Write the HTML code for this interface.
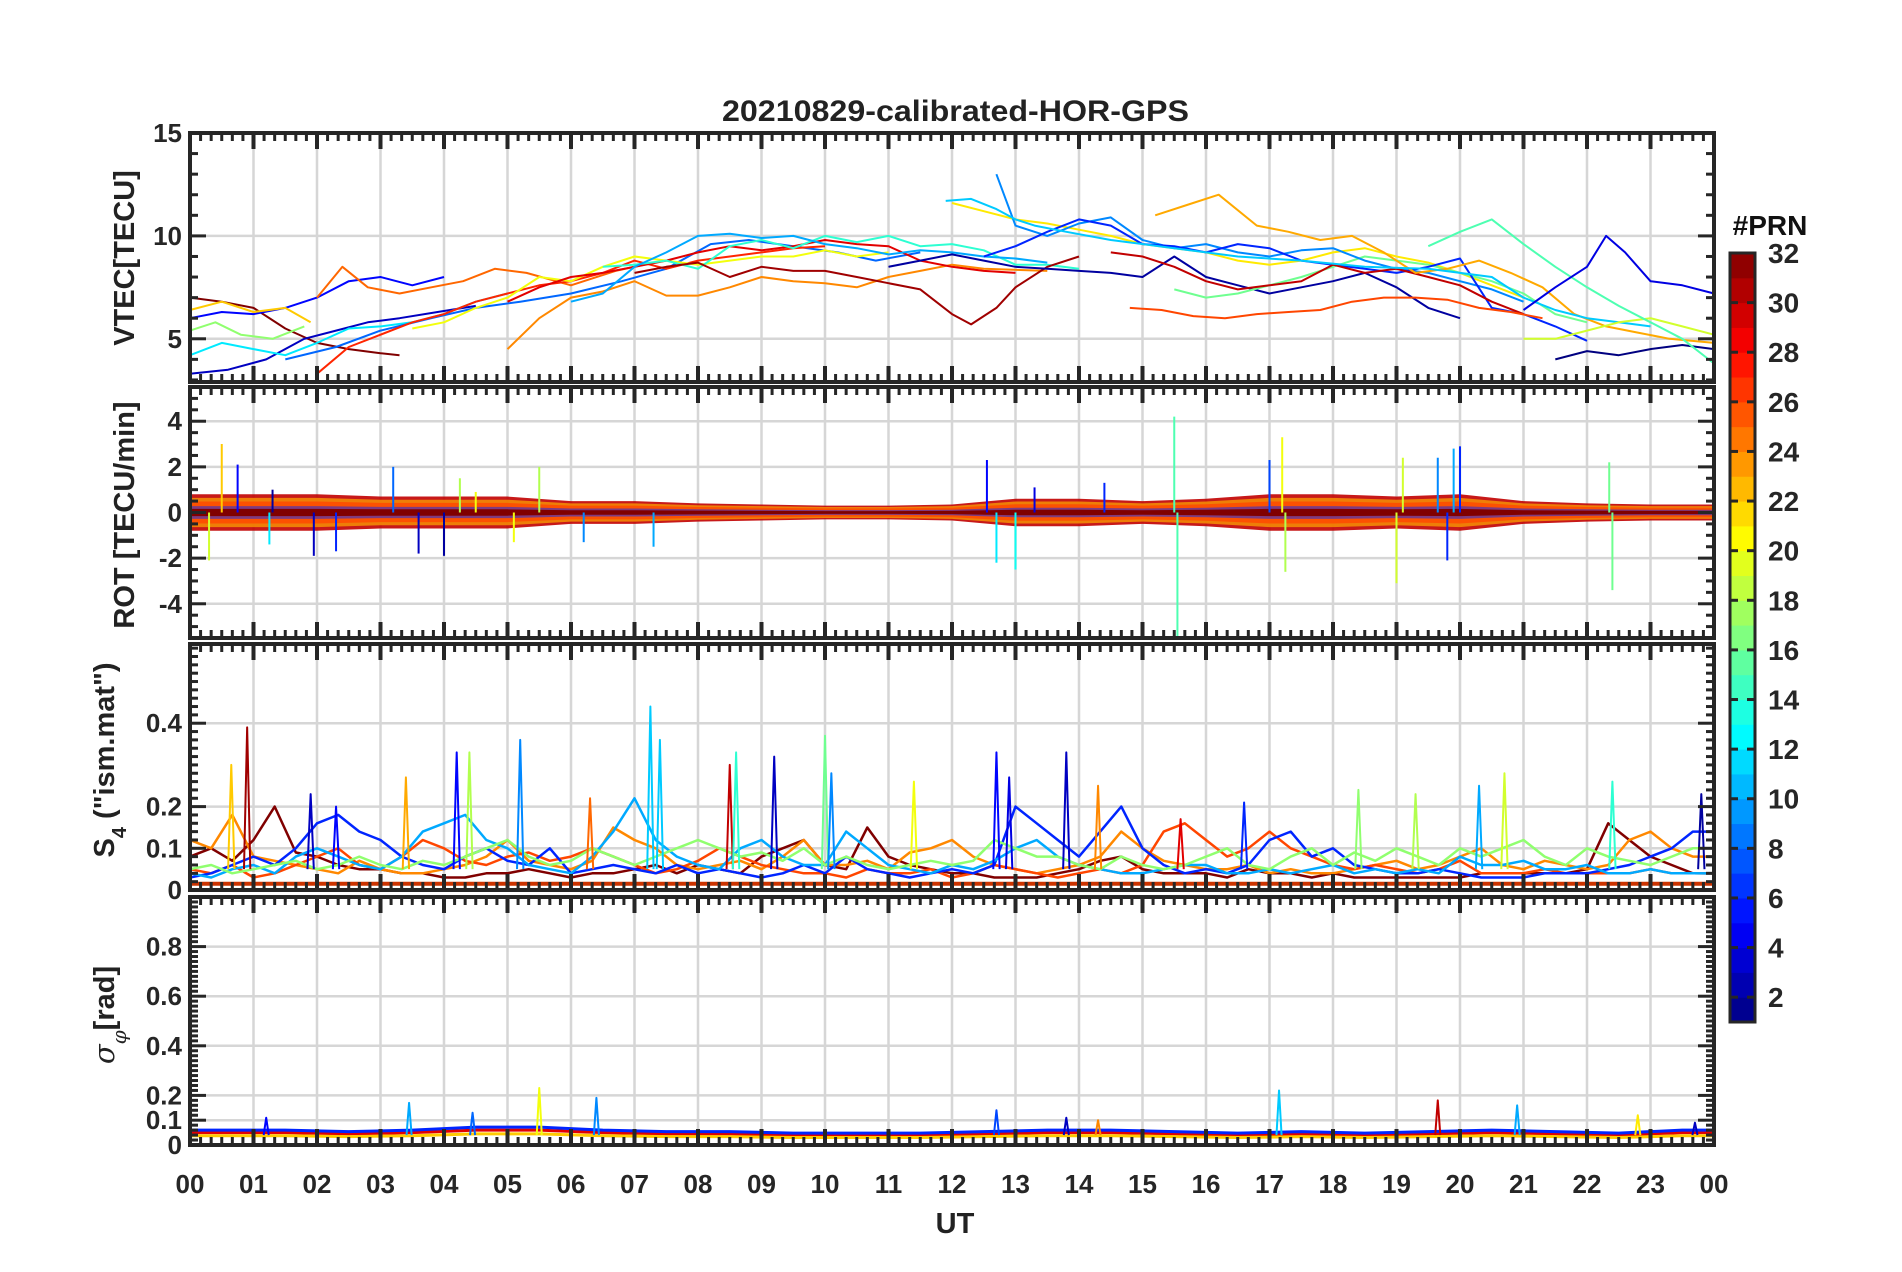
<!DOCTYPE html>
<html><head><meta charset="utf-8"><style>
html,body{margin:0;padding:0;background:#fff;}
svg{display:block;font-family:"Liberation Sans",Arial,sans-serif;font-weight:bold;}
</style></head><body>
<svg id="fig" width="1902" height="1272" viewBox="0 0 1902 1272" xmlns="http://www.w3.org/2000/svg">
<rect width="1902" height="1272" fill="#fff"/>
<text x="722" y="121" font-size="30" fill="#222" textLength="467" lengthAdjust="spacingAndGlyphs">20210829-calibrated-HOR-GPS</text>
<g id="panels"></g>
<text x="955" y="1233" text-anchor="middle" font-size="29" fill="#222">UT</text>
<text transform="translate(134 258) rotate(-90)" text-anchor="middle" font-size="29" fill="#222">VTEC[TECU]</text>
<text transform="translate(134 515) rotate(-90)" text-anchor="middle" font-size="29" fill="#222">ROT [TECU/min]</text>
<text transform="translate(114 760) rotate(-90)" text-anchor="middle" font-size="29" fill="#222">S<tspan font-size="20" dy="12">4</tspan><tspan dy="-12"> ("ism.mat")</tspan></text>
<text transform="translate(114 1015) rotate(-90)" text-anchor="middle" font-size="29" fill="#222"><tspan font-family="DejaVu Serif,serif" font-style="italic" font-weight="normal">σ</tspan><tspan font-size="20" dy="12" font-family="DejaVu Serif,serif" font-style="italic" font-weight="normal">φ</tspan><tspan dy="-12">[rad]</tspan></text>
<g id="cbar"></g>
<text x="1770" y="235" text-anchor="middle" font-size="28" fill="#111">#PRN</text>
</svg>
<script>
// ---------- data ----------
const hourLabels=["00","01","02","03","04","05","06","07","08","09","10","11","12","13","14","15","16","17","18","19","20","21","22","23","00"];
const prnTicks=[2,4,6,8,10,12,14,16,18,20,22,24,26,28,30,32];
const vtecTicks=[5,10,15];
const rotTicks=[-4,-2,0,2,4];
const s4Ticks=[0,0.1,0.2,0.4];
const sigTicks=[0,0.1,0.2,0.4,0.6,0.8];
// VTEC tracks: prn, hours, values
const vtecPrn=[32,5,3,22,25,12,17,8,27,24,20,29,14,10,31,2,21,16,9,6,30,23,26,11,1,19,15,4];
const vtecHrs=[
 [0,0.5,1,1.5,2,2.5,3,3.3],
 [0,0.5,1,1.5,2,2.5,3,3.5,4],
 [0,0.6,1.2,1.8,2.3,2.8,3.3,3.9,4.5],
 [0,0.5,1,1.5,1.9],
 [2,2.4,2.8,3.3,3.8,4.3,4.8,5.3,6,6.7,7.3],
 [0,0.5,1,1.5,2,2.5,3,3.5,4,4.5,5],
 [0,0.4,0.8,1.3,1.8],
 [1.5,2.3,3,3.8,4.5,5.2,6,6.8,7.5,8.2,8.8,9.5,10.2,10.8,11.5],
 [2,2.5,3,3.5,4,4.5,5,5.5,6,6.5,7,7.5,8,8.5,9,9.5,10],
 [5,5.5,6,6.5,7,7.5,8,8.5,9,9.5,10,10.5,11,11.5,12,12.5,13.5],
 [3.5,4,4.5,5,5.5,6,6.5,7,7.5,8,8.5,9,9.5,10,10.5,11],
 [5,5.5,6,6.5,7,7.5,8,8.5,9,9.5,10,10.5,11,11.5,12,12.5,13],
 [6.5,7,7.5,8,8.5,9,9.5,10,10.5,11,11.5,12,12.5,13,13.5,14],
 [6,6.5,7,7.5,8,8.5,9,9.5,10,10.5,11,11.5,12,12.5,13,13.5],
 [7,7.5,8,8.5,9,9.5,10,10.5,11,11.5,12,12.3,12.7,13,13.5,14],
 [11,11.5,12,12.5,13,13.5,14,14.5,15,15.5,16,16.5,17,17.5,18,18.5,19,19.5,20],
 [12,12.5,13,13.5,14,14.5,15,15.5,16,16.5,17,17.5,18,18.5,19,19.5,20,20.5,21],
 [15.5,16,16.5,17,17.5,18,18.5,19,19.5,20,20.5,21,21.5,22],
 [12.7,13,13.5,14,14.5,15,15.5,16,16.5,17,17.5,18,18.5,19,19.5,20,20.5,21],
 [12.5,13,13.5,14,14.5,15,15.5,16,16.5,17,17.5,18,18.5,19,19.5,20,20.5,21,21.5,22],
 [14.5,15,15.5,16,16.5,17,17.5,18,18.5,19,19.5,20,20.5,21],
 [15.2,15.7,16.2,16.8,17.3,17.8,18.3,18.8,19.3,19.8,20.3,20.8,21.3,21.8,22.3,22.8,23.3,24],
 [14.8,15.3,15.8,16.3,16.8,17.3,17.8,18.3,18.8,19.3,19.8,20.3,20.8,21.3],
 [11.9,12.3,12.7,13,13.3,13.8,14.5,15.5,16.5,17.5,18.5,19.5,20.5,21,21.5,22,22.5,23],
 [21.5,22,22.5,23,23.5,24],
 [21,21.5,22,22.5,23,23.5,24],
 [19.5,20,20.5,21,21.5,22,22.5,23,23.5,24],
 [21,21.5,22,22.3,22.6,23,23.5,24]
];
const vtecVal=[
 [7,6.8,6.5,5.5,4.8,4.5,4.3,4.2],
 [6,6.3,6.2,6.5,7,7.8,8,7.6,8],
 [3.3,3.5,4,5,5.4,5.8,6,6.3,6.6],
 [6.4,6.8,6.3,6.5,5.8],
 [7,8.5,7.5,7.2,7.5,7.8,8.4,8.2,7.6,8.3,8.7],
 [4.2,4.8,4.5,4.2,4.8,5.5,5.6,5.8,6.2,6.8,7.2],
 [5.4,5.8,5.2,5,5.6],
 [4,4.6,5.4,6,6.5,6.8,7.2,7.8,8.4,9.6,9.8,9.5,9.2,8.8,9.2],
 [3.3,4.6,5.2,5.8,6.2,6.8,7.2,7.6,7.8,8.2,8.8,8.4,8.8,9,9.2,9.4,9.5],
 [4.5,6,7,7.3,7.8,7.1,7.1,7.5,8,7.8,7.7,7.5,8,8.3,8.6,8.4,8.3],
 [5.5,5.8,6.5,7,8,7.8,8.5,9,8.8,8.6,8.8,9,9,9.3,9,9.2],
 [6.8,7.5,8,8.2,8.5,8.8,9.2,9.5,9.3,9.5,9.8,9.6,9.5,8.8,8.5,8.3,8.2],
 [8.5,8.6,8.8,8.4,9.5,9.8,9.4,10,9.7,10,9.5,9.6,9.3,8.6,8.6,8.4],
 [6.8,7.2,8.5,9.2,10,10.1,9.9,10,9.6,9.4,9.1,9.3,9.2,9,8.9,8.7],
 [8.2,8.5,8.7,8,8.5,8.3,8.3,8,7.7,7.4,6.2,5.7,6.5,7.5,8.5,9],
 [8.5,8.8,9.1,8.8,8.5,8.4,8.3,8.2,8,9,8,7.6,7.2,7.5,7.8,8.2,7.5,6.5,6],
 [11.6,11.2,10.8,10.6,10.3,10,9.6,9.4,9.2,8.8,8.6,8.8,9.2,9.4,9,8.7,8.2,7.6,7],
 [7.4,7,7.2,7.6,8,8.5,9,8.8,8.6,8.2,7.8,7.2,6.2,5.8],
 [13,10.5,10,10.6,10.9,9.8,9.4,9.6,9.2,9,9.3,9.4,8.8,8.4,8.2,7.8,7.4,6.8],
 [9,9.5,10.2,10.8,10.5,9.6,9.5,9.2,9.6,9.4,8.8,8.6,8.4,8.2,8.5,8.9,6.5,6.2,5.6,4.9],
 [9.2,9,8.5,7.8,7.4,7.6,7.8,8.6,8.2,8.4,8,7.6,6.8,6.2],
 [11,11.5,12,10.5,10.2,9.8,10,9.2,8.2,8.4,8.8,8.2,7.5,6.2,5.6,5.3,5,4.8],
 [6.5,6.4,6.1,6,6.2,6.3,6.4,6.8,7,7,6.9,6.5,6.3,6],
 [11.7,11.8,11.3,10.8,10.5,10.2,9.8,9.4,9,8.8,8.5,8.4,8,7,6.4,6,5.8,5.6],
 [4,4.4,4.2,4.5,4.7,4.5],
 [5,5,5.4,5.8,6,5.6,5.2],
 [9.5,10.2,10.8,9.6,8.5,7.5,6.6,5.8,5,3.8],
 [6.4,7.5,8.5,10,9.2,7.8,7.6,7.2]
];
// ROT: background band half-amplitude per hour and large spikes [hour, value, prn]
const rotBand=[0.8,0.8,0.8,0.7,0.7,0.7,0.5,0.5,0.4,0.35,0.3,0.3,0.35,0.6,0.6,0.5,0.6,0.8,0.8,0.7,0.8,0.5,0.4,0.35];
const rotSpkH=[0.3,0.5,0.75,1.25,1.3,1.95,2.3,3.2,3.6,4.0,4.25,4.5,5.1,5.5,6.2,7.3,12.55,12.7,13.0,13.3,14.4,15.5,15.55,17.0,17.2,17.25,19.0,19.1,19.65,19.8,19.9,20.0,22.35,22.4];
const rotSpkV=[-2.1,3,2.1,-1.4,1,-1.9,-1.7,2,-1.8,-1.9,1.5,0.9,-1.3,2,-1.3,-1.5,2.3,-2.2,-2.5,1.1,1.3,4.2,-5.5,2.3,3.3,-2.6,-3.1,2.4,2.4,-2.1,2.8,2.9,2.2,-3.4];
const rotSpkP=[19,22,5,12,2,3,6,8,3,2,18,20,20,18,9,10,5,12,13,4,6,15,15,7,20,18,19,19,9,6,10,6,16,16];
// S4: series per PRN, sampled every 20 min (72 values)
const s4Prn=[32,24,26,6,10,17];
const s4Val=[
 [.08,.1,.07,.12,.2,.09,.08,.06,.05,.05,.04,.04,.03,.03,.04,.04,.05,.04,.03,.04,.04,.05,.06,.04,.06,.05,.04,.08,.1,.12,.06,.05,.15,.08,.06,.05,.04,.04,.03,.03,.03,.04,.05,.07,.08,.05,.04,.04,.04,.03,.05,.04,.04,.03,.04,.03,.03,.03,.03,.03,.03,.04,.04,.04,.04,.04,.05,.16,.12,.08,.06,.04],
 [.12,.1,.18,.08,.07,.06,.05,.04,.07,.05,.04,.04,.05,.06,.08,.12,.07,.06,.05,.07,.15,.12,.1,.06,.05,.06,.07,.05,.08,.12,.06,.06,.07,.05,.09,.1,.12,.08,.06,.05,.04,.05,.06,.08,.14,.1,.07,.06,.05,.05,.06,.04,.05,.04,.04,.05,.06,.07,.05,.06,.08,.1,.06,.05,.07,.06,.05,.06,.12,.14,.1,.08],
 [.05,.04,.06,.03,.04,.06,.08,.1,.06,.05,.08,.12,.1,.07,.06,.08,.09,.07,.08,.1,.08,.06,.04,.05,.07,.1,.08,.06,.05,.04,.04,.03,.05,.04,.04,.05,.03,.04,.06,.05,.04,.03,.04,.05,.04,.06,.14,.16,.12,.08,.1,.14,.1,.08,.06,.05,.06,.05,.04,.05,.07,.04,.04,.04,.05,.04,.04,.04,.04,.05,.04,.04],
 [.03,.04,.06,.08,.06,.1,.16,.18,.14,.12,.08,.06,.05,.08,.1,.07,.06,.1,.04,.05,.06,.05,.04,.06,.04,.05,.04,.03,.04,.06,.04,.08,.05,.04,.03,.04,.05,.04,.06,.2,.16,.12,.08,.14,.2,.1,.06,.04,.05,.04,.06,.12,.14,.08,.1,.06,.05,.04,.04,.05,.04,.03,.03,.03,.04,.04,.04,.05,.06,.08,.1,.14],
 [.04,.03,.05,.06,.04,.08,.1,.08,.06,.05,.08,.14,.16,.18,.12,.1,.06,.05,.04,.08,.14,.22,.12,.08,.06,.05,.1,.12,.08,.06,.06,.14,.1,.06,.05,.04,.06,.05,.07,.1,.12,.08,.06,.05,.04,.04,.05,.06,.06,.04,.04,.05,.04,.05,.06,.04,.05,.04,.05,.04,.08,.06,.06,.07,.05,.05,.06,.04,.04,.05,.04,.04],
 [.05,.06,.04,.05,.06,.07,.05,.06,.08,.06,.05,.07,.06,.08,.1,.12,.08,.06,.07,.1,.08,.06,.08,.1,.12,.1,.08,.09,.07,.1,.06,.08,.06,.05,.06,.07,.06,.07,.12,.1,.08,.08,.06,.05,.08,.06,.05,.06,.08,.1,.06,.05,.08,.1,.06,.09,.07,.1,.08,.06,.1,.08,.1,.12,.08,.06,.1,.08,.07,.06,.08,.1]
];
// S4 spikes [hour, value, prn]
const s4SpkH=[0.9,0.65,1.9,2.3,3.4,4.2,4.4,5.2,6.3,7.25,7.4,8.5,8.6,9.2,10.0,10.1,11.4,12.7,12.9,13.8,14.3,15.6,16.6,18.4,19.3,20.3,20.7,22.4,23.8];
const s4SpkV=[.39,.3,.23,.2,.27,.33,.33,.36,.22,.44,.36,.3,.33,.32,.37,.28,.26,.33,.27,.33,.25,.17,.21,.24,.23,.25,.28,.26,.23];
const s4SpkP=[31,22,3,5,23,5,18,9,25,11,11,30,14,3,16,9,20,5,4,3,24,29,6,17,18,10,19,14,2];
// sigma phi: baseline and spikes
const sigBase=[.05,.05,.045,.05,.06,.06,.05,.045,.045,.04,.04,.04,.045,.05,.05,.045,.04,.045,.04,.045,.05,.045,.04,.05];
const sigSpkH=[1.2,3.45,4.45,5.5,6.4,12.7,13.8,14.3,17.15,19.65,20.9,22.8,23.7];
const sigSpkV=[.11,.17,.13,.23,.19,.14,.11,.1,.22,.18,.16,.12,.09];
const sigSpkP=[5,10,8,20,9,7,3,24,11,30,10,21,3];

// ---------- layout ----------
const X0=190,X1=1714;
function xS(h){return X0+h*(X1-X0)/24;}
const panels=[
 {name:'vtec',top:133,bot:382,min:2.9,max:15,ticks:vtecTicks,minor:1},
 {name:'rot',top:387,bot:638,min:-5.5,max:5.5,ticks:rotTicks,minor:0.5},
 {name:'s4',top:644,bot:890,min:0,max:0.59,ticks:s4Ticks,minor:0.02},
 {name:'sigma',top:897,bot:1145,min:0,max:1.0,ticks:sigTicks,minor:0.02}
];
function yS(p,v){return p.bot-(v-p.min)/(p.max-p.min)*(p.bot-p.top);}
function jet(prn){
 const t=(prn-1)/31;
 const c=x=>Math.max(0,Math.min(1,1.5-Math.abs(4*t-x)));
 const r=c(3),g=c(2),b=c(1);
 return `rgb(${Math.round(r*255)},${Math.round(g*255)},${Math.round(b*255)})`;
}
const NS='http://www.w3.org/2000/svg';
function el(tag,attrs,parent){const e=document.createElementNS(NS,tag);for(const k in attrs)e.setAttribute(k,attrs[k]);parent.appendChild(e);return e;}
const root=document.getElementById('panels');

panels.forEach(p=>{
 const g=el('g',{},root);
 
 
 for(let h=1;h<24;h++){const l=el('line',{x1:xS(h),x2:xS(h),y1:p.top,y2:p.bot,stroke:'#d6d6d6','stroke-width':2.5},g);
  }
 p.ticks.forEach(v=>{const y=yS(p,v);if(y>p.top+2&&y<p.bot-2){const l=el('line',{x1:X0,x2:X1,y1:y,y2:y,stroke:'#d6d6d6','stroke-width':2.5},g);
  }});
 const data=el('g',{'stroke-linejoin':'round',fill:'none'},g);
 
 
 p.g=data;
 const fr=el('g',{stroke:'#262626'},g);
 for(let m=0;m<=144;m++){const x=xS(m/6);const major=m%6==0;const L=major?16:8;
  el('line',{x1:x,x2:x,y1:p.top,y2:p.top+L,'stroke-width':major?4:3},fr);
  el('line',{x1:x,x2:x,y1:p.bot,y2:p.bot-L,'stroke-width':major?4:3},fr);}
 for(let v=Math.ceil(p.min/p.minor)*p.minor;v<=p.max+1e-9;v+=p.minor){const y=yS(p,v);
  const major=p.ticks.some(t=>Math.abs(t-v)<1e-6);const L=major?16:8;
  el('line',{x1:X0,x2:X0+L,y1:y,y2:y,'stroke-width':3},fr);
  el('line',{x1:X1,x2:X1-L,y1:y,y2:y,'stroke-width':3},fr);}
 el('rect',{x:X0,y:p.top,width:X1-X0,height:p.bot-p.top,fill:'none','stroke-width':4},fr);
 p.ticks.forEach(v=>{const t=el('text',{x:X0-8,y:yS(p,v)+9,'text-anchor':'end','font-size':26,fill:'#262626'},g);
  t.textContent=String(v);});
});
hourLabels.forEach((s,i)=>{const t=el('text',{x:xS(i),y:1193,'text-anchor':'middle','font-size':26,fill:'#262626'},root);
 t.textContent=s;});

// VTEC
const pv=panels[0];
vtecPrn.forEach((prn,i)=>{
 const pts=vtecHrs[i].map((h,j)=>xS(h).toFixed(1)+','+yS(pv,vtecVal[i][j]).toFixed(1)).join(' ');
 const l=el('polyline',{points:pts,stroke:jet(prn),'stroke-width':2},pv.g);
 
});
// ROT band
const pr=panels[1];
[[30,1,0.9],[23,0.8,0.7],[26,0.6,0.8],[6,0.35,0.5],[32,0.2,1]].forEach(([prn,sc,op])=>{
 const up=rotBand.map((a,i)=>xS(i)+','+yS(pr,a*sc));
 up.push(xS(24)+','+yS(pr,rotBand[23]*sc));
 const dn=rotBand.map((a,i)=>xS(i)+','+yS(pr,-a*sc)).reverse();
 dn.unshift(xS(24)+','+yS(pr,-rotBand[23]*sc));
 const b=el('polygon',{points:up.concat(dn).join(' '),fill:jet(prn),'fill-opacity':op,stroke:'none'},pr.g);
 
});
rotSpkH.forEach((h,i)=>{const l=el('line',{x1:xS(h),x2:xS(h),y1:yS(pr,0),y2:yS(pr,rotSpkV[i]),stroke:jet(rotSpkP[i]),'stroke-width':2},pr.g);
 });
// S4
const ps=panels[2];
s4Prn.forEach((prn,i)=>{
 const pts=s4Val[i].map((v,j)=>xS(j/3).toFixed(1)+','+yS(ps,v).toFixed(1));
 pts.push(xS(24)+','+yS(ps,s4Val[i][71]));
 const l=el('polyline',{points:pts.join(' '),stroke:jet(prn),'stroke-width':2.5},ps.g);
 
});
s4SpkH.forEach((h,i)=>{const l=el('polyline',{points:`${xS(h-0.05)},${yS(ps,0.05)} ${xS(h)},${yS(ps,s4SpkV[i])} ${xS(h+0.05)},${yS(ps,0.05)}`,stroke:jet(s4SpkP[i]),'stroke-width':2},ps.g);
 });
const sb=el('polyline',{points:xS(0)+','+yS(ps,0.015)+' '+xS(24)+','+yS(ps,0.015),stroke:'#cc3300','stroke-width':4},ps.g);

// sigma
const pg=panels[3];
[[29,1],[22,0.75],[6,1.2]].forEach(([prn,sc])=>{
 const pts=sigBase.map((v,i)=>xS(i+0.5)+','+yS(pg,v*sc));
 pts.unshift(xS(0)+','+yS(pg,sigBase[0]*sc));pts.push(xS(24)+','+yS(pg,sigBase[23]*sc));
 const l=el('polyline',{points:pts.join(' '),stroke:jet(prn),'stroke-width':3},pg.g);
 
});
sigSpkH.forEach((h,i)=>{const l=el('polyline',{points:`${xS(h-0.04)},${yS(pg,0.04)} ${xS(h)},${yS(pg,sigSpkV[i])} ${xS(h+0.04)},${yS(pg,0.04)}`,stroke:jet(sigSpkP[i]),'stroke-width':2},pg.g);
 });

// colorbar
const cb=document.getElementById('cbar');
const CT=253,CB=1022,CX=1730,CW=25;
function cy(v){return CB-(v-1)/31*(CB-CT);}
for(let k=1;k<32;k++){const r=el('rect',{x:CX,y:cy(k+1),width:CW,height:cy(k)-cy(k+1)+0.5,fill:jet(k+0.5)},cb);
 }
el('rect',{x:CX,y:CT,width:CW,height:CB-CT,fill:'none',stroke:'#262626','stroke-width':3},cb);
prnTicks.forEach(v=>{const y=cy(v);
 el('line',{x1:CX+CW-8,x2:CX+CW,y1:y,y2:y,stroke:'#262626','stroke-width':3},cb);
 el('line',{x1:CX,x2:CX+8,y1:y,y2:y,stroke:'#262626','stroke-width':3},cb);
 const t=el('text',{x:CX+38,y:y+10,'font-size':28,fill:'#262626'},cb);
 t.textContent=v;});
</script>
</body></html>
